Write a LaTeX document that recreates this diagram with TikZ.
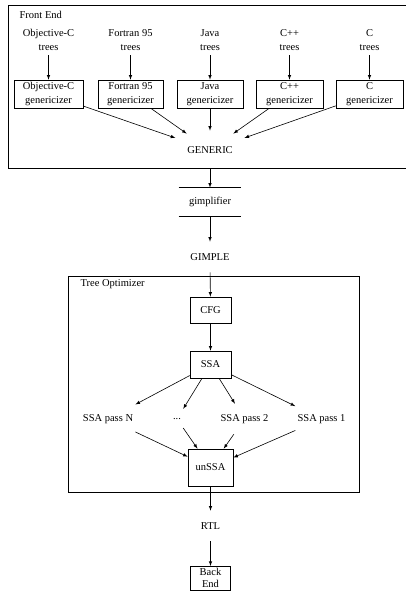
\documentclass[tikz,border=0pt]{standalone}
\usepackage{fontspec}
\setmainfont{Liberation Serif}
\usetikzlibrary{shapes.geometric}
\tikzstyle{box}=[draw,rectangle,minimum height=28pt,inner sep=2pt,align=center]
\tikzstyle{txt}=[rectangle,minimum height=30pt,inner sep=2pt,align=center]
\tikzstyle{oval}=[ellipse,minimum width=88pt,minimum height=38pt,inner sep=0pt]
\tikzstyle{flow}=[-latex]

\begin{document}
\begin{tikzpicture}[x=1pt,y=-1pt,line width=0.6pt,font=\fontsize{10.5}{13.5}\selectfont]
	\useasboundingbox (0,0) rectangle (406,592);

	% front end cluster
	\draw (420,5) -- (8,5) -- (8,168) -- (420,168);
	\node[anchor=west] (fe) at (16,15) {Front End};

	\node[txt] (objct) at (48.5,40) {Objective-C\\trees};
	\node[txt] (fortt) at (130.5,40) {Fortran 95\\trees};
	\node[txt] (javat) at (210,40) {Java\\trees};
	\node[txt] (cppt) at (289.5,40) {C++\\trees};
	\node[txt] (ct) at (369.5,40) {C\\trees};

	\node[box,minimum width=69pt] (objcg) at (48.5,94) {Objective-C\\genericizer};
	\node[box,minimum width=65pt] (fortg) at (130.5,94) {Fortran 95\\genericizer};
	\node[box,minimum width=66pt] (javag) at (210,94) {Java\\genericizer};
	\node[box,minimum width=67pt] (cppg) at (289.5,94) {C++\\genericizer};
	\node[box,minimum width=67pt] (cg) at (369.5,94) {C\\genericizer};

	\node[oval] (generic) at (210,150) {GENERIC};

	\draw[flow] (objct) -- (objcg);
	\draw[flow] (fortt) -- (fortg);
	\draw[flow] (javat) -- (javag);
	\draw[flow] (cppt) -- (cppg);
	\draw[flow] (ct) -- (cg);

	\draw[flow] (objcg) -- (generic);
	\draw[flow] (fortg) -- (generic);
	\draw[flow] (javag) -- (generic);
	\draw[flow] (cppg) -- (generic);
	\draw[flow] (cg) -- (generic);

	% gimplifier
	\node[txt,minimum width=62pt,minimum height=28pt] (gimp) at (210,202) {gimplifier};
	\draw (gimp.north west) -- (gimp.north east);
	\draw (gimp.south west) -- (gimp.south east);
	\node[txt] (gimple) at (210,257) {GIMPLE};

	\draw[flow] (generic) -- (gimp);
	\draw[flow] (gimp) -- (gimple);

	% tree optimizer cluster
	\draw (68,276) rectangle (359,492);
	\node[anchor=west] (to) at (77,284) {Tree Optimizer};

	\node[box,minimum width=41pt,minimum height=26pt] (cfg) at (210.5,310) {CFG};
	\node[box,minimum width=41pt,minimum height=27pt] (ssa) at (210.5,364.5) {SSA};

	\node[txt] (passn) at (108,419) {SSA pass N};
	\node[txt] (dots) at (177,419) {...};
	\node[txt] (pass2) at (244.5,419) {SSA pass 2};
	\node[txt] (pass1) at (321.5,419) {SSA pass 1};

	\node[box,minimum width=45pt,minimum height=37pt] (unssa) at (210.5,467.5) {unSSA};

	\draw[flow] (gimple) -- (cfg);
	\draw[flow] (cfg) -- (ssa);
	\draw[flow] (ssa) -- (passn);
	\draw[flow] (ssa) -- (dots);
	\draw[flow] (ssa) -- (pass2);
	\draw[flow] (ssa) -- (pass1);
	\draw[flow] (passn) -- (unssa);
	\draw[flow] (dots) -- (unssa);
	\draw[flow] (pass2) -- (unssa);
	\draw[flow] (pass1) -- (unssa);

	% back end
	\node[txt] (rtl) at (210.5,526) {RTL};
	\node[box,minimum width=40pt,minimum height=24pt,inner sep=1pt,anchor=north,
		font=\fontsize{10.5}{12}\selectfont] (be) at (210.5,566) {Back\\End};

	\draw[flow] (unssa) -- (rtl);
	\draw[flow] (rtl) -- (be);

\end{tikzpicture}
\end{document}
